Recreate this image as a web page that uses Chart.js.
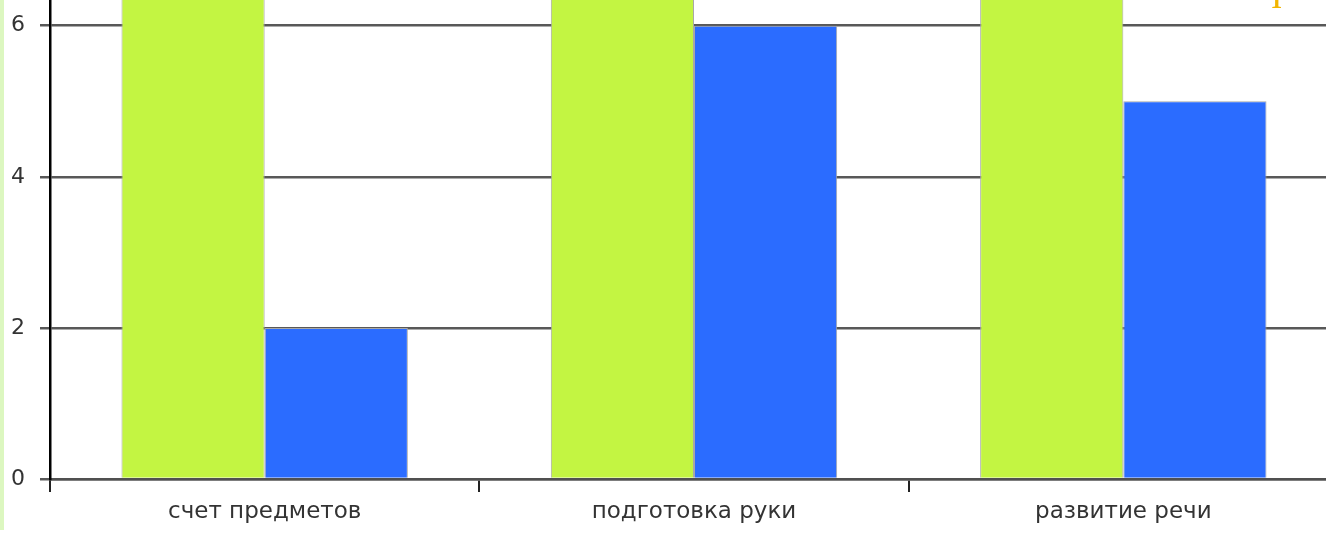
<!DOCTYPE html>
<html>
<head>
<meta charset="utf-8">
<script src="https://cdn.jsdelivr.net/npm/chart.js@4/dist/chart.umd.min.js"></script>
<style>
    body { margin: 0; overflow: hidden; background: #fff; }
    #wrap { position: absolute; left: 0; top: 0; width: 1345px; height: 534px; }
    #strip { position: absolute; left: 0; top: 0; width: 4px; height: 530px; background: #dcf7c0; }
    #title { position: absolute; left: 1268px; top: -29px; font: 40px "Liberation Serif", serif; color: #f2b500; }
</style>
</head>
<body>
<div id="wrap"><canvas id="chart" width="1345" height="534"></canvas></div>
<div id="strip"></div>
<div id="title">т</div>
<script>
// Chart data (top of the green bars is cut off in the picture)
const categories = ['счет предметов', 'подготовка руки', 'развитие речи'];
const series1 = [7, 7, 7];
const series2 = [2, 6, 5];
const yTicks = [0, 2, 4, 6];

const ctx = document.getElementById('chart');

new Chart(ctx, {
    type: 'bar',
    data: {
        labels: categories,
        datasets: [
            {
                label: 'Ряд 1',
                data: series1,
                backgroundColor: '#c3f542',
                borderColor: '#a8a8a8',
                borderWidth: 1
            },
            {
                label: 'Ряд 2',
                data: series2,
                backgroundColor: '#2b6cff',
                borderColor: '#a8a8a8',
                borderWidth: 1
            }
        ]
    },
    options: {
        responsive: false,
        animation: false,
        devicePixelRatio: 1,
        layout: { padding: { left: 0, right: 7, top: 0, bottom: 0 } },
        datasets: {
            bar: { categoryPercentage: 0.667, barPercentage: 1 }
        },
        plugins: {
            legend: { display: false },
            tooltip: { enabled: false }
        },
        scales: {
            x: {
                grid: {
                    drawOnChartArea: false,
                    drawTicks: true,
                    tickLength: 13,
                    tickColor: '#222',
                    lineWidth: 2
                },
                border: { color: '#505050', width: 2.5 },
                ticks: {
                    padding: 6,
                    color: '#333',
                    font: { family: 'DejaVu Sans', size: 23 }
                },
                afterFit: function(scale) {
                    scale.height = 55;
                }
            },
            y: {
                min: 0,
                max: 6.34,
                grid: {
                    color: '#585858',
                    lineWidth: 2.5,
                    tickLength: 10
                },
                border: { color: '#000', width: 2.5 },
                ticks: {
                    stepSize: 2,
                    includeBounds: false,
                    padding: 15,
                    color: '#333',
                    font: { family: 'DejaVu Sans', size: 22 },
                    callback: function(v) { return yTicks.includes(v) ? v : ''; }
                },
                afterFit: function(scale) {
                    scale.width = 50;
                    scale.paddingTop = 0;
                    scale.paddingBottom = 0;
                }
            }
        }
    }
});
</script>
</body>
</html>
